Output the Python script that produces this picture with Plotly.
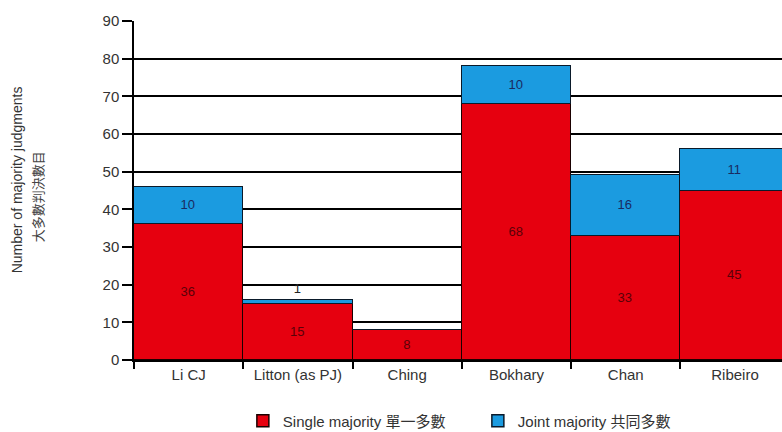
import plotly.graph_objects as go

judges = ["Li CJ", "Litton (as PJ)", "Ching", "Bokhary", "Chan", "Ribeiro"]
single_majority = [36, 15, 8, 68, 33, 45]
joint_majority = [10, 1, 0, 10, 16, 11]
y_ticks = [0, 10, 20, 30, 40, 50, 60, 70, 80, 90]

RED = "#e6000f"
BLUE = "#1b9be0"
FONT = "Liberation Sans, Arial, Noto Sans CJK TC, sans-serif"

joint_text = [str(v) if v > 0 else "" for v in joint_majority]
joint_pos = ["outside" if v < 3 else "inside" for v in joint_majority]
joint_col = ["#222222" if v < 3 else "#1a2a60" for v in joint_majority]

fig = go.Figure()
fig.add_trace(go.Bar(
    x=judges, y=single_majority, name="Single majority 單一多數",
    marker=dict(color=RED, line=dict(color="#1a0000", width=1.5)),
    text=[str(v) for v in single_majority], textposition="inside",
    insidetextanchor="middle",
    textfont=dict(color="#5a0008", size=13, family=FONT),
))
fig.add_trace(go.Bar(
    x=judges, y=joint_majority, name="Joint majority 共同多數",
    marker=dict(color=BLUE, line=dict(color="#0a1a2a", width=1.5)),
    text=joint_text, textposition=joint_pos,
    insidetextanchor="middle", cliponaxis=False,
    textfont=dict(color=joint_col, size=13, family=FONT),
))

fig.update_layout(
    width=782, height=432,
    margin=dict(l=134, r=0, t=21, b=72, autoexpand=False),
    barmode="stack", bargap=0,
    plot_bgcolor="white", paper_bgcolor="white",
    font=dict(family=FONT, color="#333333"),
    showlegend=True,
    legend=dict(
        orientation="h", x=0.168, y=-0.18, xanchor="left", yanchor="middle",
        font=dict(size=15, family=FONT, color="#333333"),
        itemwidth=30, entrywidth=190, entrywidthmode="pixels",
        traceorder="normal",
    ),
    xaxis=dict(
        range=[-0.5, 5.43], showgrid=False,
        showline=True, linecolor="black", linewidth=2,
        ticks="outside", tickson="boundaries", ticklen=7, tickcolor="black", tickwidth=1.5,
        tickfont=dict(size=15, color="#333333"),
    ),
    yaxis=dict(
        range=[0, 90], tickvals=y_ticks,
        showgrid=True, gridcolor="black", gridwidth=1.5,
        showline=True, linecolor="black", linewidth=1.5,
        ticks="outside", ticklen=10, tickcolor="black", tickwidth=1.5,
        tickfont=dict(size=15, color="#333333"),
        zeroline=False,
    ),
    annotations=[
        dict(
            text="Number of majority judgments",
            xref="paper", yref="paper", x=-117 / 648, y=0.53,
            xanchor="center", yanchor="middle", textangle=-90, showarrow=False,
            font=dict(size=14, color="#333333", family=FONT),
        ),
        dict(
            text="大多數判決數目",
            xref="paper", yref="paper", x=-96 / 648, y=0.48,
            xanchor="center", yanchor="middle", textangle=-90, showarrow=False,
            font=dict(size=13, color="#444444", family=FONT),
        ),
    ],
)

fig.write_html(
    "out.html",
    config={"displayModeBar": False},
    post_script="document.body.style.margin='0';document.body.style.overflow='hidden';",
)
